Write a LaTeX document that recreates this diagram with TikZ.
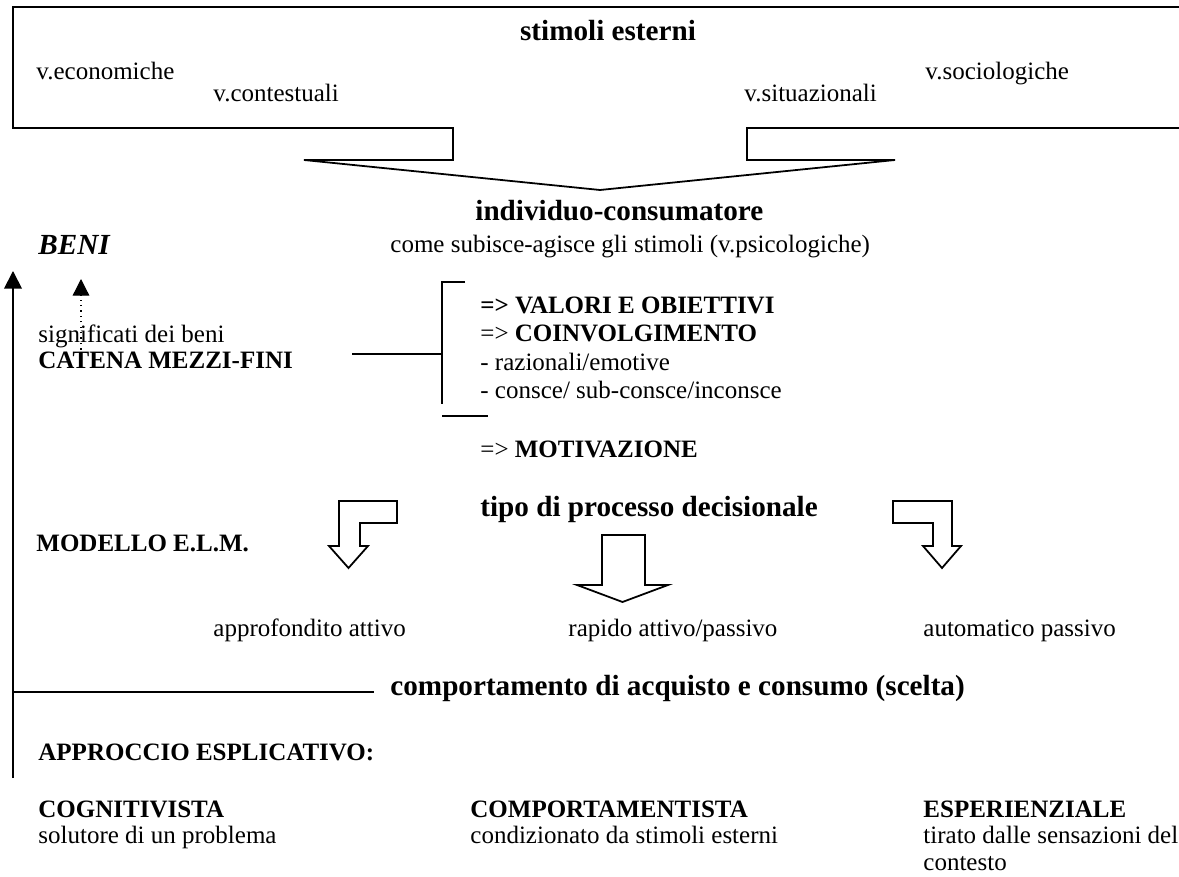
\documentclass[tikz,border=0pt]{standalone}
\usepackage{fontspec}
\setmainfont{Liberation Serif}
\usetikzlibrary{arrows.meta}
\tikzset{
  txt/.style={anchor=base west, inner sep=0pt, font=\fontsize{12}{13.8}\selectfont},
  txtb/.style={anchor=base west, inner sep=0pt, font=\fontsize{12}{13.8}\selectfont\bfseries},
  hd/.style={anchor=base west, inner sep=0pt, font=\fontsize{14}{16}\selectfont\bfseries},
  shp/.style={draw=black, line width=0.85pt, line join=miter},
  ln/.style={draw=black, line width=0.85pt},
  arr/.style={draw=black, line width=0.85pt, -{Triangle[length=8.5pt,width=8.5pt]}},
  darr/.style={draw=black, line width=0.6pt, dotted, -{Triangle[length=8pt,width=8pt]}}
}
\begin{document}
\begin{tikzpicture}[x=0.48pt,y=-0.48pt]
\useasboundingbox (0,0) rectangle (1179,877);
\clip (0,0) rectangle (1179,877);
\fill[white] (0,0) rectangle (1179,877);

% top callout box with funnel arrow
\draw[shp] (1200,7) -- (13,7) -- (13,128) -- (453,128) -- (453,160) -- (304,160)
  -- (600,190) -- (895,160) -- (747,160) -- (747,128) -- (1200,128);

\node[hd, anchor=base] (stim) at (608,41) {stimoli esterni};
\node[txt] (econ) at (36,80) {v.economiche};
\node[txt] (cont) at (213,102) {v.contestuali};
\node[txt] (situ) at (744,102) {v.situazionali};
\node[txt] (soc) at (925,80) {v.sociologiche};

\node[hd] (indiv) at (475,221) {individuo-consumatore};
\node[anchor=base west, inner sep=0pt, font=\fontsize{14}{16}\selectfont\bfseries\itshape] (beni) at (38,255) {BENI};
\node[txt] (come) at (390,253) {come subisce-agisce gli stimoli (v.psicologiche)};

\node[txt] (sign) at (38,343) {significati dei beni};
\node[txtb] (catena) at (38,369) {CATENA MEZZI-FINI};

\node[txtb] (valori) at (480,314) {=> VALORI E OBIETTIVI};
\node[txt] (coinv) at (480,342) {=> \textbf{COINVOLGIMENTO}};
\node[txt] (raz) at (480,371) {- razionali/emotive};
\node[txt] (consce) at (480,399) {- consce/ sub-consce/inconsce};
\node[txt] (motiv) at (480,458) {=> \textbf{MOTIVAZIONE}};

% bracket
\coordinate (cl) at (352,354);
\coordinate (cr) at (442,354);
\coordinate (bt) at (465,282);
\coordinate (btc) at (442,282);
\coordinate (bbc) at (442,404);
\coordinate (bb1) at (442,416);
\coordinate (bb2) at (488,416);
\draw[ln] (cl) -- (cr);
\draw[ln] (bt) -- (btc) -- (bbc);
\draw[ln] (bb1) -- (bb2);

\node[hd] (tipo) at (480,517) {tipo di processo decisionale};
\node[txtb] (elm) at (36,552) {MODELLO E.L.M.};

% block arrows
\draw[shp] (339,501) -- (397,501) -- (397,523) -- (360,523) -- (360,546) -- (368,546)
  -- (348.5,568) -- (329,546) -- (339,546) -- cycle;
\draw[shp] (602,535) -- (645,535) -- (645,585) -- (668,585) -- (622.5,602) -- (577,585)
  -- (602,585) -- cycle;
\draw[shp] (952,501) -- (893,501) -- (893,523) -- (933,523) -- (933,546) -- (923,546)
  -- (942,568) -- (961,546) -- (952,546) -- cycle;

\node[txt] (appr) at (213,636) {approfondito attivo};
\node[txt] (rapido) at (568,636) {rapido attivo/passivo};
\node[txt] (autom) at (923,636) {automatico passivo};

\node[hd] (comp) at (390,695) {comportamento di acquisto e consumo (scelta)};
\node[txtb] (appro) at (38,760) {APPROCCIO ESPLICATIVO:};

\node[txtb] (cogn) at (38,817) {COGNITIVISTA};
\node[txt] (solut) at (38,843) {solutore di un problema};
\node[txtb] (compt) at (470,817) {COMPORTAMENTISTA};
\node[txt] (cond) at (470,843) {condizionato da stimoli esterni};
\node[txtb] (esper) at (923,817) {ESPERIENZIALE};
\node[txt] (tirato) at (923,843) {tirato dalle sensazioni del};
\node[txt] (contesto) at (923,870) {contesto};

% feedback arrow on the left
\coordinate (fbBot) at (13,778);
\coordinate (fbTop) at (13,271);
\coordinate (fbMid) at (13,692);
\coordinate (fbEnd) at (374,692);
\draw[arr] (fbBot) -- (fbTop);
\draw[ln] (fbMid) -- (fbEnd);

% dotted arrow towards BENI
\coordinate (dB) at (81,355);
\coordinate (dT) at (81,279);
\draw[darr] (dB) -- (dT);
\end{tikzpicture}
\end{document}
